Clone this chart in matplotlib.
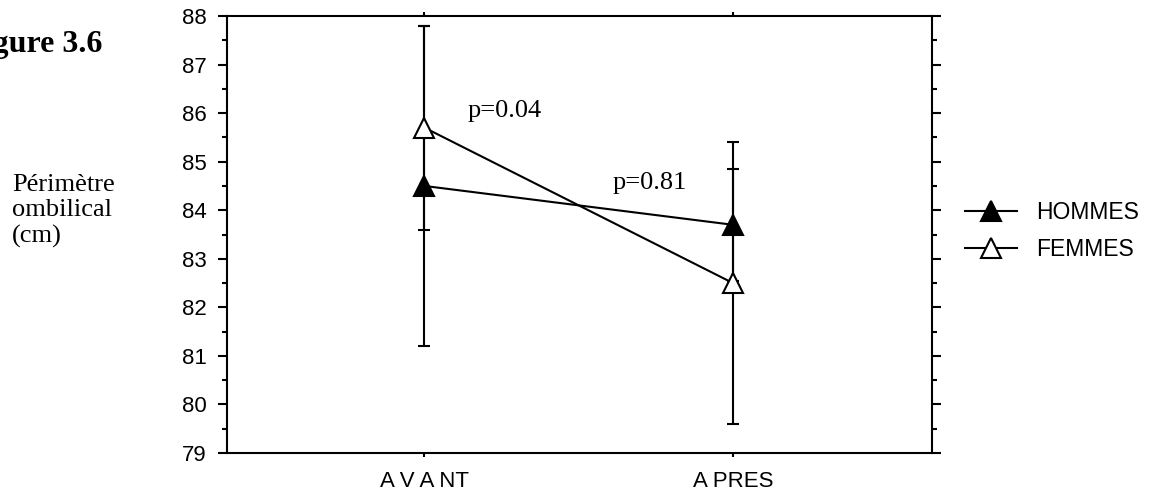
import matplotlib
matplotlib.use('Agg')
import matplotlib.pyplot as plt
from matplotlib.ticker import MultipleLocator
import numpy as np

# valeurs moyennes et ecarts-types du perimetre ombilical (cm)
moments = ['A V A NT', 'A PRES']
hommes_moy = [84.5, 83.7]
hommes_et = [3.3, 1.15]
femmes_moy = [85.7, 82.5]
femmes_et = [2.1, 2.9]
p_valeurs = ['p=0.04', 'p=0.81']

plt.rcParams['font.family'] = 'Liberation Sans'

fig = plt.figure(figsize=(11.53, 4.97), dpi=100)
ax = fig.add_axes([0.1969, 0.0885, 0.6114, 0.8793])

x = np.arange(len(moments))

# barres d'erreur derriere les symboles
ax.errorbar(x, hommes_moy, yerr=hommes_et, fmt='none', ecolor='black',
            elinewidth=1.5, capsize=4.5, capthick=1.5, zorder=2)
ax.errorbar(x, femmes_moy, yerr=femmes_et, fmt='none', ecolor='black',
            elinewidth=1.5, capsize=4.5, capthick=1.5, zorder=2)

h_line, = ax.plot(x, hommes_moy, '-^', color='black', lw=1.5, ms=14.5,
                  mfc='black', mec='black', mew=1.5, zorder=3, label='HOMMES')
f_line, = ax.plot(x, femmes_moy, '-^', color='black', lw=1.5, ms=14.5,
                  mfc='white', mec='black', mew=1.5, zorder=4, label='FEMMES')

ax.set_xlim(-0.64, 1.645)
ax.set_ylim(79, 88)
ax.set_xticks(x)
ax.set_xticklabels(moments, fontsize=16)
ax.yaxis.set_major_locator(MultipleLocator(1))
ax.yaxis.set_minor_locator(MultipleLocator(0.5))

for s in ax.spines.values():
    s.set_linewidth(1.5)

ax.tick_params(axis='y', which='major', direction='out', length=6.5, width=1.5,
               labelsize=16, pad=8, left=True, right=True)
ax.tick_params(axis='y', which='minor', direction='out', length=3.5, width=1.5,
               left=True, right=True)
ax.tick_params(axis='x', which='major', direction='out', length=3, width=1.5,
               pad=10, top=True, bottom=True)

# p-valeurs
ax.text(0.141, 85.91, p_valeurs[0], family='Liberation Serif', fontsize=19,
        va='baseline', ha='left')
ax.text(0.611, 84.43, p_valeurs[1], family='Liberation Serif', fontsize=19,
        va='baseline', ha='left')

fig.text(12 / 1153, 1 - 211 / 497, 'Périmètre\nombilical\n(cm)',
         family='Liberation Serif', fontsize=19, va='center', ha='left',
         linespacing=1.2)
fig.text(102 / 1153, 1 - 52 / 497, 'Figure 3.6', family='Liberation Serif',
         fontweight='bold', fontsize=23, va='baseline', ha='right')

fig.legend(handles=[h_line, f_line], loc='center left',
           bbox_to_anchor=(965 / 1153, 1 - 231 / 497), frameon=False,
           fontsize=16.5, handlelength=2.25, handletextpad=0.85,
           labelspacing=0.6, borderpad=0, borderaxespad=0, markerscale=0.95)

fig.savefig('out.png', dpi=100)
